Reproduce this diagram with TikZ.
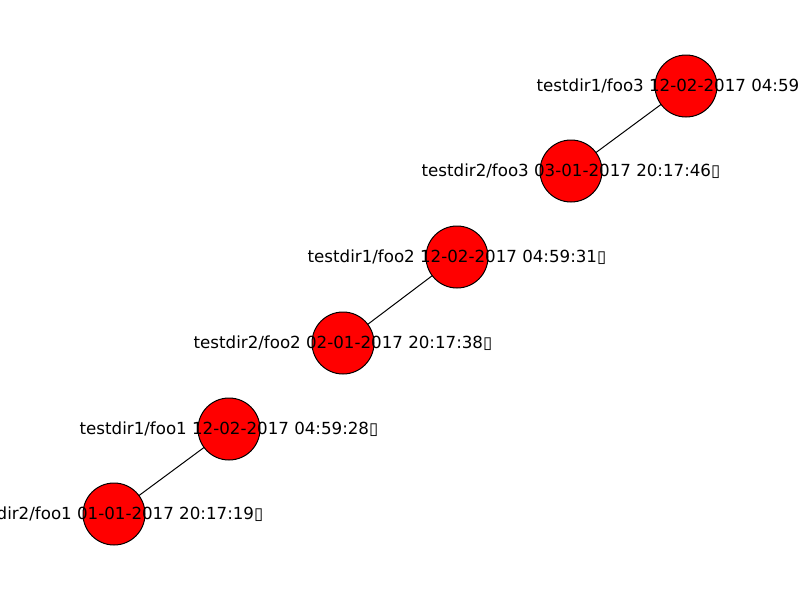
\documentclass[tikz,border=0pt]{standalone}
\usepackage{fontspec}
\setmainfont{DejaVu Sans}
\begin{document}
\begin{tikzpicture}[x=0.75pt,y=-0.75pt,
  vert/.style={circle,draw=black,fill=red,line width=0.75pt,minimum size=46.5pt,inner sep=0pt},
  lbl/.style={font=\fontsize{12.5pt}{15pt}\selectfont,inner sep=0pt,anchor=center},
  edge/.style={draw=black,line width=0.75pt}]
\useasboundingbox (0,0) rectangle (800,600);
\clip (0,0) rectangle (800,600);
\coordinate (p1) at (686,86);
\coordinate (p2) at (571,171);
\coordinate (p3) at (457,257);
\coordinate (p4) at (343,343);
\coordinate (p5) at (229,429);
\coordinate (p6) at (114,514);
\draw[edge] (p1) -- (p2);
\draw[edge] (p3) -- (p4);
\draw[edge] (p5) -- (p6);
\node[vert] (n1) at (p1) {};
\node[vert] (n2) at (p2) {};
\node[vert] (n3) at (p3) {};
\node[vert] (n4) at (p4) {};
\node[vert] (n5) at (p5) {};
\node[vert] (n6) at (p6) {};
\node[lbl] (l1) at (n1.center) {testdir1/foo3 12-02-2017 04:59:34▯};
\node[lbl] (l2) at (n2.center) {testdir2/foo3 03-01-2017 20:17:46▯};
\node[lbl] (l3) at (n3.center) {testdir1/foo2 12-02-2017 04:59:31▯};
\node[lbl] (l4) at (n4.center) {testdir2/foo2 02-01-2017 20:17:38▯};
\node[lbl] (l5) at (n5.center) {testdir1/foo1 12-02-2017 04:59:28▯};
\node[lbl] (l6) at (n6.center) {testdir2/foo1 01-01-2017 20:17:19▯};
\end{tikzpicture}
\end{document}
